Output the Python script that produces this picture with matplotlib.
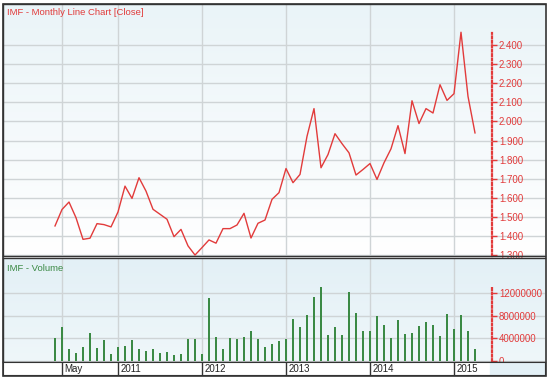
import numpy as np
import pandas as pd
import matplotlib
matplotlib.use("Agg")
import matplotlib.pyplot as plt
from matplotlib.colors import LinearSegmentedColormap
from matplotlib.patches import Rectangle

plt.rcParams['font.family'] = ['Liberation Sans', 'DejaVu Sans']

# monthly data, Apr 2010 .. Apr 2015
months = pd.date_range('2010-04-01', periods=61, freq='MS')

close = [1.454, 1.540, 1.579, 1.497, 1.384, 1.390, 1.466, 1.461, 1.449, 1.527,
         1.662, 1.598, 1.706, 1.636, 1.541, 1.515, 1.489, 1.398, 1.436, 1.350,
         1.302, 1.341, 1.381, 1.364, 1.440, 1.440, 1.459, 1.520, 1.391, 1.468,
         1.485, 1.593, 1.628, 1.754, 1.680, 1.723, 1.922, 2.067, 1.758, 1.827,
         1.936, 1.884, 1.836, 1.720, 1.749, 1.780, 1.697, 1.784, 1.857, 1.978,
         1.832, 2.108, 1.989, 2.067, 2.044, 2.192, 2.110, 2.145, 2.466, 2.131,
         1.940]

volume_m = [4.12, 6.06, 2.06, 1.47, 2.41, 4.88, 2.24, 3.65, 1.18, 2.41,
            2.71, 3.65, 2.06, 1.71, 2.06, 1.35, 1.53, 1.00, 1.18, 3.82,
            3.82, 1.18, 11.1, 4.18, 2.06, 4.06, 3.82, 4.24, 5.29, 3.82,
            2.38, 3.06, 3.47, 3.94, 7.47, 6.06, 8.12, 11.3, 13.1, 4.53,
            6.06, 4.53, 12.2, 8.53, 5.29, 5.29, 7.94, 6.35, 4.06, 7.29,
            4.71, 5.00, 6.24, 6.82, 6.35, 4.35, 8.24, 5.59, 8.06, 5.29,
            2.06]
volume = [v * 1e6 for v in volume_m]

date_ticks = ['2010-05', '2011-01', '2012-01', '2013-01', '2014-01', '2015-01']
date_labels = ['May', '2011', '2012', '2013', '2014', '2015']

price_ticks = [1.3, 1.4, 1.5, 1.6, 1.7, 1.8, 1.9, 2.0, 2.1, 2.2, 2.3, 2.4]
volume_ticks = [0, 4e6, 8e6, 12e6]

red = '#e23b3b'
green = '#3b8a45'
grid_c = '#cfd4d6'
frame_c = '#333333'

x = np.arange(len(months))
xpos = [months.get_loc(pd.Timestamp(d)) for d in date_ticks]

W, H = 550, 382
fig = plt.figure(figsize=(5.5, 3.82), dpi=100)


def box(l, t, r, b):
    return [l / W, 1 - b / H, (r - l) / W, (b - t) / H]


xlim = ((3 - 55) / 7, (545 - 55) / 7)
axis_frac = (492 - 3) / 542


def gradient(ax, c0, c1):
    cmap = LinearSegmentedColormap.from_list('g', [c1, c0])
    ax.imshow(np.linspace(0, 1, 100).reshape(-1, 1), cmap=cmap, aspect='auto',
              extent=[0, 1, 0, 1], transform=ax.transAxes, zorder=0)


def style(ax):
    ax.set_xlim(*xlim)
    for s in ['left', 'top', 'bottom']:
        ax.spines[s].set_color(frame_c)
        ax.spines[s].set_linewidth(1)
    sp = ax.spines['right']
    sp.set_position(('axes', axis_frac))
    sp.set_color(red)
    sp.set_linestyle((0, (0.8, 1.2)))
    sp.set_linewidth(1.6)
    ax.yaxis.tick_right()
    ax.tick_params(axis='y', direction='out', length=3.5, width=1, color=red,
                   labelcolor=red, labelsize=7, pad=1.5)
    ax.tick_params(axis='x', length=0, labelbottom=False)
    ax.set_xticks(xpos)
    ax.grid(True, color=grid_c, linewidth=1)
    ax.set_axisbelow(True)


# price panel
ax1 = fig.add_axes(box(3, 4, 545, 256))
gradient(ax1, '#ffffff', '#eaf4f8')
ax1.plot(x, close, color=red, linewidth=1, zorder=3)
ax1.set_ylim(1.297, 2.6135)
ax1.set_yticks(price_ticks)
ax1.set_yticklabels(['%.3f' % t for t in price_ticks])
style(ax1)
ax1.spines['right'].set_bounds(1.297, 2.46)
ax1.text(0.008, 0.965, 'IMF - Monthly Line Chart [Close]', transform=ax1.transAxes,
         color=red, fontsize=6.8, ha='left', va='center')

# volume panel
ax2 = fig.add_axes(box(3, 258, 545, 362))
gradient(ax2, '#eff7fa', '#e3f0f6')
ax2.bar(x, volume, width=0.25, color=green, linewidth=0, zorder=3)
ax2.set_ylim(-0.18e6, 18.18e6)
ax2.set_yticks(volume_ticks)
ax2.set_yticklabels(['%d' % t for t in volume_ticks])
style(ax2)
ax2.spines['right'].set_bounds(0, 13.1e6)
ax2.text(0.008, 0.9, 'IMF - Volume', transform=ax2.transAxes,
         color=green, fontsize=6.8, ha='left', va='center')

# date strip
ax3 = fig.add_axes(box(3, 362, 545, 375))
ax3.set_xlim(*xlim)
ax3.set_ylim(0, 1)
ax3.set_facecolor('white')
ax3.add_patch(Rectangle(((490 - 55) / 7, 0), 20, 1, color='#e3f0f6', zorder=1))
for s in ax3.spines.values():
    s.set_color(frame_c)
ax3.set_xticks([])
ax3.set_yticks([])
for p, lab in zip(xpos, date_labels):
    ax3.axvline(p, color=frame_c, linewidth=1)
    ax3.text(p + 0.3, 0.45, lab, color='#222222', fontsize=7, ha='left', va='center')

# outer frame
fig.add_artist(Rectangle((2.5 / W, 1 - 375.5 / H), 543.5 / W, 372 / H,
                         transform=fig.transFigure, fill=False,
                         edgecolor=frame_c, linewidth=1.2))

plt.savefig('out.png', dpi=100)
